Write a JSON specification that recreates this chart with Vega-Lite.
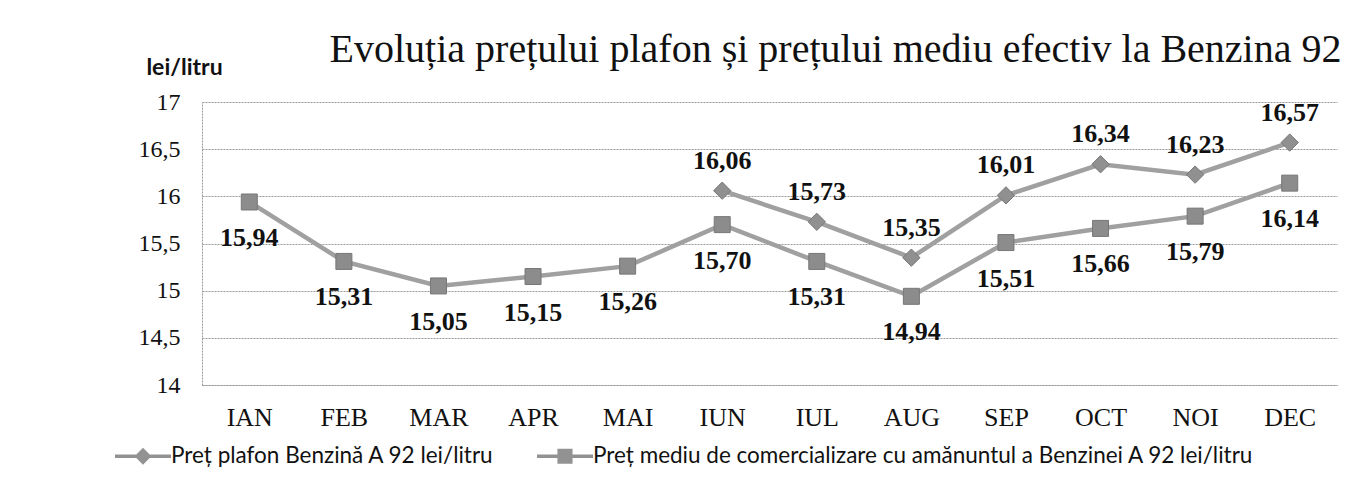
{
  "$schema": "https://vega.github.io/schema/vega-lite/v6.json",
  "width": 1135,
  "height": 283,
  "autosize": {"type": "none"},
  "padding": {"left": 202, "top": 102, "right": 27, "bottom": 110},
  "background": "white",
  "config": {
    "locale": {"number": {"decimal": ",", "thousands": ".", "grouping": [3], "currency": ["", ""]}},
    "view": {"stroke": null},
    "font": "Liberation Serif"
  },
  "title": {
    "text": "Evoluția prețului plafon și prețului mediu efectiv la Benzina 92",
    "font": "Liberation Serif",
    "fontSize": 40,
    "fontWeight": "normal",
    "color": "#111111",
    "anchor": "middle",
    "dx": 66,
    "baseline": "alphabetic",
    "offset": -46
  },
  "data": {
    "values": [
      {"luna": "IAN", "serie": "Preț mediu de comercializare cu amănuntul a Benzinei A 92 lei/litru", "valoare": 15.94},
      {"luna": "FEB", "serie": "Preț mediu de comercializare cu amănuntul a Benzinei A 92 lei/litru", "valoare": 15.31},
      {"luna": "MAR", "serie": "Preț mediu de comercializare cu amănuntul a Benzinei A 92 lei/litru", "valoare": 15.05},
      {"luna": "APR", "serie": "Preț mediu de comercializare cu amănuntul a Benzinei A 92 lei/litru", "valoare": 15.15},
      {"luna": "MAI", "serie": "Preț mediu de comercializare cu amănuntul a Benzinei A 92 lei/litru", "valoare": 15.26},
      {"luna": "IUN", "serie": "Preț mediu de comercializare cu amănuntul a Benzinei A 92 lei/litru", "valoare": 15.70},
      {"luna": "IUL", "serie": "Preț mediu de comercializare cu amănuntul a Benzinei A 92 lei/litru", "valoare": 15.31},
      {"luna": "AUG", "serie": "Preț mediu de comercializare cu amănuntul a Benzinei A 92 lei/litru", "valoare": 14.94},
      {"luna": "SEP", "serie": "Preț mediu de comercializare cu amănuntul a Benzinei A 92 lei/litru", "valoare": 15.51},
      {"luna": "OCT", "serie": "Preț mediu de comercializare cu amănuntul a Benzinei A 92 lei/litru", "valoare": 15.66},
      {"luna": "NOI", "serie": "Preț mediu de comercializare cu amănuntul a Benzinei A 92 lei/litru", "valoare": 15.79},
      {"luna": "DEC", "serie": "Preț mediu de comercializare cu amănuntul a Benzinei A 92 lei/litru", "valoare": 16.14},
      {"luna": "IUN", "serie": "Preț plafon Benzină A 92 lei/litru", "valoare": 16.06},
      {"luna": "IUL", "serie": "Preț plafon Benzină A 92 lei/litru", "valoare": 15.73},
      {"luna": "AUG", "serie": "Preț plafon Benzină A 92 lei/litru", "valoare": 15.35},
      {"luna": "SEP", "serie": "Preț plafon Benzină A 92 lei/litru", "valoare": 16.01},
      {"luna": "OCT", "serie": "Preț plafon Benzină A 92 lei/litru", "valoare": 16.34},
      {"luna": "NOI", "serie": "Preț plafon Benzină A 92 lei/litru", "valoare": 16.23},
      {"luna": "DEC", "serie": "Preț plafon Benzină A 92 lei/litru", "valoare": 16.57}
    ]
  },
  "encoding": {
    "x": {
      "field": "luna",
      "type": "ordinal",
      "sort": ["IAN", "FEB", "MAR", "APR", "MAI", "IUN", "IUL", "AUG", "SEP", "OCT", "NOI", "DEC"],
      "axis": {
        "title": null,
        "labelAngle": 0,
        "labelFont": "Liberation Serif",
        "labelFontSize": 26,
        "labelColor": "#111111",
        "labelBaseline": "middle",
        "labelPadding": 32,
        "ticks": false,
        "tickSize": 0,
        "grid": false,
        "domainColor": "#999999",
        "domainDash": [2, 1],
        "domainWidth": 1
      }
    },
    "y": {
      "field": "valoare",
      "type": "quantitative",
      "scale": {"domain": [14, 17], "nice": false, "zero": false},
      "axis": {
        "values": [14, 14.5, 15, 15.5, 16, 16.5, 17],
        "format": ".1~f",
        "title": "lei/litru",
        "titleAngle": 0,
        "titleFont": "Lato",
        "titleFontWeight": "bold",
        "titleFontSize": 23,
        "titleColor": "#111111",
        "titleX": -18,
        "titleY": -28,
        "titleAlign": "center",
        "titleBaseline": "alphabetic",
        "labelFont": "Liberation Serif",
        "labelFontSize": 24,
        "labelColor": "#111111",
        "labelPadding": 22,
        "ticks": false,
        "tickSize": 0,
        "domainColor": "#999999",
        "domainDash": [2, 1],
        "gridColor": "#999999",
        "gridDash": [2, 1],
        "gridWidth": 1
      }
    }
  },
  "layer": [
    {
      "mark": {"type": "line", "color": "#a0a0a0", "strokeWidth": 4.5},
      "encoding": {"detail": {"field": "serie"}}
    },
    {
      "transform": [{"filter": "datum.serie === 'Preț plafon Benzină A 92 lei/litru'"}],
      "mark": {"type": "point", "shape": "diamond", "size": 300, "filled": true, "fill": "#909090", "stroke": "#777777", "strokeWidth": 1, "opacity": 1}
    },
    {
      "transform": [{"filter": "datum.serie !== 'Preț plafon Benzină A 92 lei/litru'"}],
      "mark": {"type": "point", "shape": "square", "size": 256, "filled": true, "fill": "#8c8c8c", "stroke": "#777777", "strokeWidth": 1, "opacity": 1}
    },
    {
      "transform": [{"filter": "datum.serie === 'Preț plafon Benzină A 92 lei/litru'"}],
      "mark": {"type": "text", "font": "Liberation Serif", "fontSize": 26, "fontWeight": "bold", "color": "#111111", "baseline": "middle", "dy": -30},
      "encoding": {"text": {"field": "valoare", "type": "quantitative", "format": ".2f"}}
    },
    {
      "transform": [{"filter": "datum.serie !== 'Preț plafon Benzină A 92 lei/litru'"}],
      "mark": {"type": "text", "font": "Liberation Serif", "fontSize": 26, "fontWeight": "bold", "color": "#111111", "baseline": "middle", "dy": 36},
      "encoding": {"text": {"field": "valoare", "type": "quantitative", "format": ".2f"}}
    },
    {
      "mark": {"type": "point", "filled": true, "fill": "#929292", "strokeWidth": 0, "opacity": 0, "size": 3136},
      "encoding": {
        "shape": {
          "field": "serie",
          "type": "nominal",
          "scale": {
            "domain": ["Preț plafon Benzină A 92 lei/litru", "Preț mediu de comercializare cu amănuntul a Benzinei A 92 lei/litru"],
            "range": [
              "M-1,-0.06H-0.2V0.06H-1ZM0.2,-0.06H1V0.06H0.2ZM0,-0.3L0.3,0L0,0.3L-0.3,0Z",
              "M-1,-0.06H-0.2V0.06H-1ZM0.2,-0.06H1V0.06H0.2ZM-0.27,-0.27H0.27V0.27H-0.27Z"
            ]
          },
          "legend": {
            "title": null,
            "orient": "none",
            "legendX": -87,
            "legendY": 326,
            "direction": "horizontal",
            "columns": 2,
            "columnPadding": 42,
            "padding": 0,
            "labelFont": "Lato",
            "labelFontSize": 22.5,
            "labelColor": "#111111",
            "labelLimit": 0,
            "labelOffset": 0,
            "symbolSize": 3136,
            "symbolStrokeWidth": 0,
            "symbolFillColor": "#929292",
            "symbolOpacity": 1
          }
        }
      }
    }
  ]
}
